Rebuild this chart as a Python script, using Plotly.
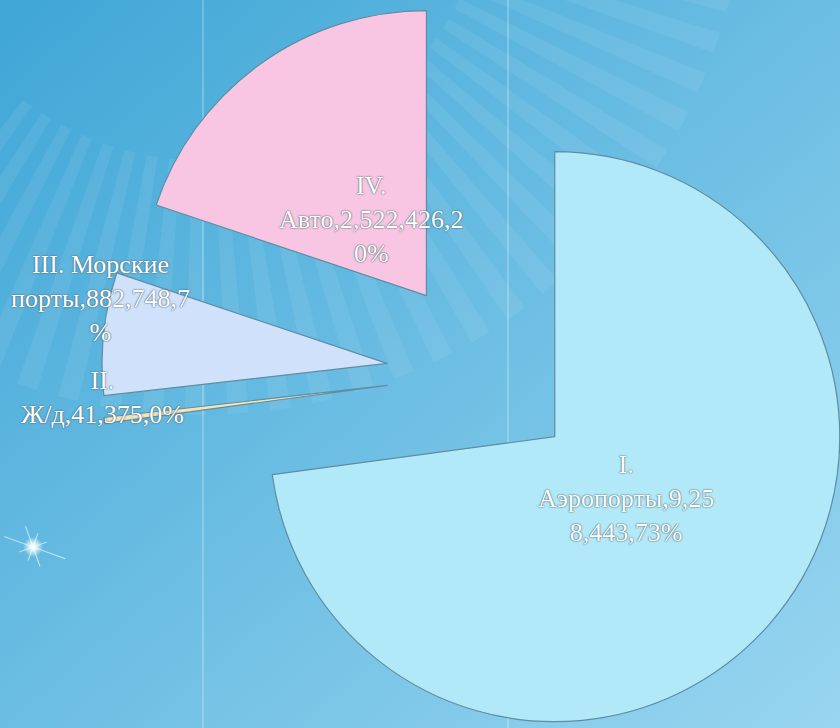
import math
import base64
import plotly.graph_objects as go

numerals = ["I", "II", "III", "IV"]
names = ["Аэропорты", "Ж/д", "Морские порты", "Авто"]
values = [9258443, 41375, 882748, 2522426]

colors = ["#b2e9f8", "#f4e4b6", "#cfe1fb", "#f8c6e3"]
edge = "#5f8da2"

W, H = 840, 728
R = 285            # slice radius, px
D = 96             # how far each slice is pulled out, px
CX, CY = 482.5, 373.5

label_r = [0.33, 1.0, 1.03, 0.33]     # label distance from apex, in radii
label_turn = [0, 4.6, 6.8, 0]         # small angular nudge, deg
wrap_w = [14, 14, 15, 16]


def wrap(text, width):
    lines, cur = [], ""
    for word in text.split(" "):
        cand = cur + " " + word if cur else word
        if len(cand) <= width:
            cur = cand
            continue
        if cur:
            lines.append(cur)
        while len(word) > width:
            lines.append(word[:width])
            word = word[width:]
        cur = word
    if cur:
        lines.append(cur)
    return "<br>".join(lines)


# background: gradient, sunburst rays, two thin verticals and a sparkle
rays = ""
ox, oy = 200, -130
a = 14.0
while a < 128:
    pts = []
    for ang, r in [(a - 1.1, 290), (a + 1.1, 290), (a + 1.1, 545), (a - 1.1, 545)]:
        t = math.radians(ang)
        pts.append(f"{ox + r * math.cos(t):.1f},{oy + r * math.sin(t):.1f}")
    rays += f'<polygon points="{" ".join(pts)}" fill="#ffffff" fill-opacity="0.07"/>'
    a += 4.5

spark = ""
for ang, ln in [(200, 30), (20, 34), (250, 22), (70, 20), (290, 14), (110, 14), (160, 14), (340, 14)]:
    t = math.radians(ang)
    spark += (f'<line x1="33" y1="547" x2="{33 + ln * math.cos(t):.1f}" y2="{547 + ln * math.sin(t):.1f}" '
              f'stroke="#ffffff" stroke-opacity="0.55" stroke-width="1.2" stroke-linecap="round"/>')

svg = f'''<svg xmlns="http://www.w3.org/2000/svg" width="{W}" height="{H}" viewBox="0 0 {W} {H}">
<defs>
<linearGradient id="bg" x1="0" y1="0" x2="1" y2="1">
<stop offset="0" stop-color="#3fa6d6"/><stop offset="1" stop-color="#98d5f0"/>
</linearGradient>
<radialGradient id="glow"><stop offset="0" stop-color="#ffffff" stop-opacity="1"/>
<stop offset="0.35" stop-color="#ffffff" stop-opacity="0.8"/>
<stop offset="1" stop-color="#ffffff" stop-opacity="0"/></radialGradient>
</defs>
<rect width="{W}" height="{H}" fill="url(#bg)"/>
{rays}
<line x1="203" y1="0" x2="203" y2="{H}" stroke="#ffffff" stroke-opacity="0.3" stroke-width="1.5"/>
<line x1="508" y1="0" x2="508" y2="{H}" stroke="#ffffff" stroke-opacity="0.3" stroke-width="1.5"/>
{spark}
<circle cx="33" cy="547" r="10" fill="url(#glow)"/>
</svg>'''
bg_uri = "data:image/svg+xml;base64," + base64.b64encode(svg.encode("utf-8")).decode()

fig = go.Figure()
total = sum(values)
start = 0
annotations = []
for i, v in enumerate(values):
    mid = math.radians((start + v / 2) / total * 360)
    start += v
    cx = CX + D * math.sin(mid)
    cy = CY - D * math.cos(mid)
    fig.add_trace(go.Pie(
        values=values,
        labels=names,
        sort=False,
        direction="clockwise",
        rotation=0,
        marker=dict(
            colors=[colors[j] if j == i else "rgba(0,0,0,0)" for j in range(len(values))],
            line=dict(color=edge, width=[1.2 if j == i else 0 for j in range(len(values))]),
        ),
        textinfo="none",
        hoverinfo="none",
        showlegend=False,
        domain=dict(x=[max(0, (cx - R) / W), min(1, (cx + R) / W)],
                    y=[max(0, 1 - (cy + R) / H), min(1, 1 - (cy - R) / H)]),
    ))

    pct = round(v / total * 100)
    text = wrap(f"{numerals[i]}. {names[i]},{v:,},{pct}%", wrap_w[i])
    la = mid + math.radians(label_turn[i])
    lx = cx + R * label_r[i] * math.sin(la)
    ly = cy - R * label_r[i] * math.cos(la)
    annotations.append(dict(
        x=lx / W, y=1 - ly / H, xref="paper", yref="paper",
        text=text, showarrow=False, xanchor="center", yanchor="middle", align="center",
        font=dict(family="Liberation Serif", size=26, color="#ffffff",
                  shadow="0px 0px 2px #4f6470, 0px 0px 1px #4f6470"),
    ))

fig.update_layout(
    width=W,
    height=H,
    margin=dict(l=0, r=0, t=0, b=0),
    paper_bgcolor="#5db8e2",
    showlegend=False,
    annotations=annotations,
    images=[dict(source=bg_uri, xref="paper", yref="paper", x=0, y=1, sizex=1, sizey=1,
                 sizing="stretch", layer="below", xanchor="left", yanchor="top")],
)

fig.write_html("out.html", config={"displayModeBar": False},
               post_script="document.body.style.margin = '0';")
